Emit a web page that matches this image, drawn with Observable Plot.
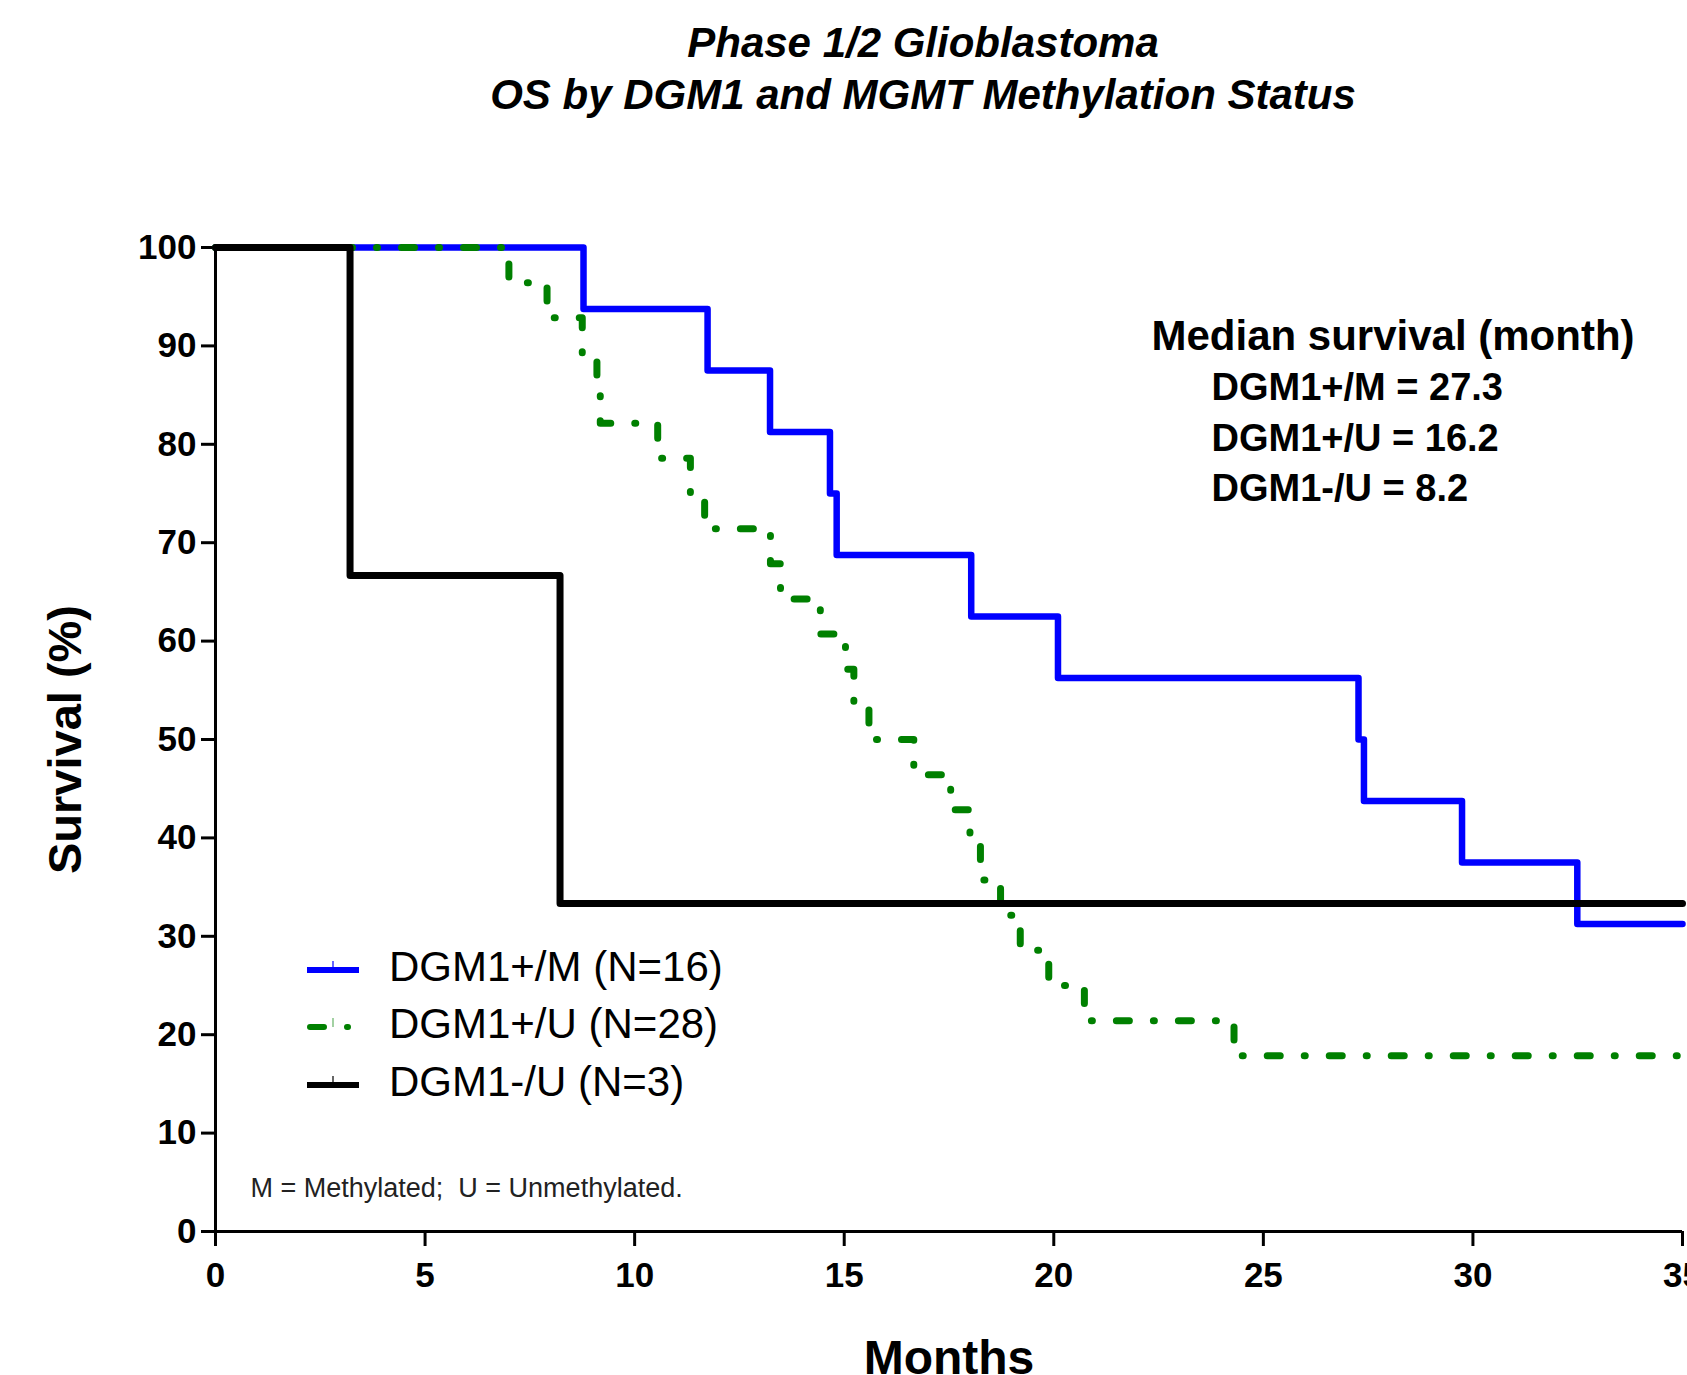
<!DOCTYPE html>
<html>
<head>
<meta charset="utf-8">
<script src="https://cdn.jsdelivr.net/npm/d3@7"></script>
<script src="https://cdn.jsdelivr.net/npm/@observablehq/plot@0.6"></script>
<style>
  html, body { margin: 0; padding: 0; background: #fff; overflow: hidden; }
  #wrap { position: relative; width: 1687px; height: 1375px; overflow: hidden; font-family: "Liberation Sans", Arial, sans-serif; }
  #title { position: relative; height: 130px; }
  #title div { position: absolute; left: 0; width: 1846px; text-align: center; font-weight: bold; font-style: italic; font-size: 42px; line-height: 52px; color: #000; }
  #legend { position: absolute; left: 307px; top: 938px; }
  .row { display: flex; align-items: center; height: 57.5px; }
  .row span { margin-left: 30px; font-size: 42px; color: #000; white-space: nowrap; }
  svg.plot { overflow: visible; }
</style>
</head>
<body>
<div id="wrap">
  <div id="title"></div>
  <div id="chart"></div>
  <div id="legend"></div>
</div>
<script>
// ---- Data ----
const titleLines = ["Phase 1/2 Glioblastoma", "OS by DGM1 and MGMT Methylation Status"];

const seriesNames = ["DGM1+/M (N=16)", "DGM1+/U (N=28)", "DGM1-/U (N=3)"];
const seriesColors = ["#0000ff", "#008000", "#000000"];

const blueTimes = [0, 8.78, 11.74, 13.23, 14.66, 14.82, 18.03, 20.1, 27.27, 27.4, 29.74, 32.49, 35];
const blueSurv  = [100, 93.75, 87.5, 81.25, 75, 68.75, 62.5, 56.25, 50, 43.75, 37.5, 31.25, 31.25];

const greenTimes = [0, 7.0, 7.91, 8.75, 9.1, 9.18, 10.55, 11.33, 11.67, 13.24, 13.48, 14.43, 15.03, 15.23, 15.59, 16.66, 17.54, 18.0, 18.25, 18.73, 19.2, 19.88, 20.73, 24.3, 35];
const greenSurv  = [100, 96.43, 92.86, 89.29, 85.71, 82.14, 78.57, 75.0, 71.43, 67.86, 64.29, 60.71, 57.14, 53.57, 50.0, 46.43, 42.86, 39.29, 35.71, 32.14, 28.57, 25.0, 21.43, 17.86, 17.86];

const blackTimes = [0, 3.21, 8.22, 35];
const blackSurv  = [100, 66.67, 33.33, 33.33];

const xTicks = [0, 5, 10, 15, 20, 25, 30, 35];
const yTicks = [0, 10, 20, 30, 40, 50, 60, 70, 80, 90, 100];

const xLabel = "Months";
const yLabel = "Survival (%)";
const medianHeader = "Median survival (month)";
const medianRows = ["DGM1+/M = 27.3", "DGM1+/U = 16.2", "DGM1-/U = 8.2"];
const footnote = "M = Methylated;  U = Unmethylated.";

// ---- Build ----
const toRows = (t, s) => t.map((d, i) => ({month: d, surv: s[i]}));
const blue = toRows(blueTimes, blueSurv);
const green = toRows(greenTimes, greenSurv);
const black = toRows(blackTimes, blackSurv);

const titleEl = document.getElementById("title");
titleLines.forEach((t, i) => {
  const d = document.createElement("div");
  d.textContent = t;
  d.style.top = (17 + i * 52) + "px";
  titleEl.appendChild(d);
});

const font = '"Liberation Sans", Arial, sans-serif';

const chart = Plot.plot({
  width: 1687,
  height: 1245,
  marginTop: 117,
  marginBottom: 144,
  marginLeft: 215,
  marginRight: 5,
  style: {fontFamily: font, fontSize: "35px", fontWeight: "bold", color: "#000", background: "#fff"},
  x: {domain: [0, 35]},
  y: {domain: [0, 100]},
  marks: [
    Plot.axisX({ticks: xTicks, tickSize: 15, tickPadding: 16, strokeWidth: 3, label: null}),
    Plot.axisY({ticks: yTicks, tickSize: 14, tickPadding: 5, strokeWidth: 3, label: null}),
    Plot.line(blue, {x: "month", y: "surv", curve: "step-after", stroke: seriesColors[0], strokeWidth: 6.5}),
    Plot.line(green, {x: "month", y: "surv", curve: "step-after", stroke: seriesColors[1], strokeWidth: 7, strokeDasharray: "13,24,1,24", strokeLinecap: "round"}),
    Plot.line(black, {x: "month", y: "surv", curve: "step-after", stroke: seriesColors[2], strokeWidth: 7}),
    Plot.ruleX([0], {strokeWidth: 3}),
    Plot.ruleY([0], {strokeWidth: 3}),
    Plot.text([xLabel], {text: d => d, frameAnchor: "bottom", dy: 127, fontSize: 48, fontWeight: "bold", lineAnchor: "middle"}),
    Plot.text([yLabel], {text: d => d, frameAnchor: "left", dx: -150, rotate: -90, textAnchor: "middle", fontSize: 47, fontWeight: "bold", lineAnchor: "middle"}),
    Plot.text([medianHeader], {text: d => d, frameAnchor: "top-left", dx: 936, dy: 89, textAnchor: "start", lineAnchor: "middle", fontSize: 42, fontWeight: "bold"}),
    Plot.text([medianRows.join("\n")], {text: d => d, frameAnchor: "top-left", dx: 996, dy: 187, textAnchor: "start", lineAnchor: "middle", lineHeight: 1.33, fontSize: 38, fontWeight: "bold"}),
    Plot.text([footnote], {text: d => d, frameAnchor: "bottom-left", dx: 35, dy: -43, textAnchor: "start", lineAnchor: "middle", fontSize: 27, fontWeight: "normal", fill: "#222"})
  ]
});
document.getElementById("chart").appendChild(chart);

// ---- Legend ----
const legend = document.getElementById("legend");
seriesNames.forEach((name, i) => {
  const row = document.createElement("div");
  row.className = "row";
  const ns = "http://www.w3.org/2000/svg";
  const s = document.createElementNS(ns, "svg");
  s.setAttribute("width", 52); s.setAttribute("height", 24);
  const ln = document.createElementNS(ns, "line");
  ln.setAttribute("x1", 0); ln.setAttribute("x2", 52);
  ln.setAttribute("y1", 15); ln.setAttribute("y2", 15);
  ln.setAttribute("stroke", seriesColors[i]);
  if (i === 1) {
    ln.setAttribute("stroke-width", 6);
    ln.setAttribute("stroke-dasharray", "14,23,1,23");
    ln.setAttribute("stroke-linecap", "round");
    ln.setAttribute("stroke-dashoffset", -3);
  } else {
    ln.setAttribute("stroke-width", 6);
  }
  s.appendChild(ln);
  const tk = document.createElementNS(ns, "line");
  tk.setAttribute("x1", 26); tk.setAttribute("x2", 26);
  tk.setAttribute("y1", 6); tk.setAttribute("y2", 15);
  tk.setAttribute("stroke", seriesColors[i]);
  tk.setAttribute("stroke-width", 1.2);
  tk.setAttribute("opacity", i === 1 ? 0.6 : 1);
  s.appendChild(tk);
  row.appendChild(s);
  const sp = document.createElement("span");
  sp.textContent = name;
  row.appendChild(sp);
  legend.appendChild(row);
});
</script>
</body>
</html>
